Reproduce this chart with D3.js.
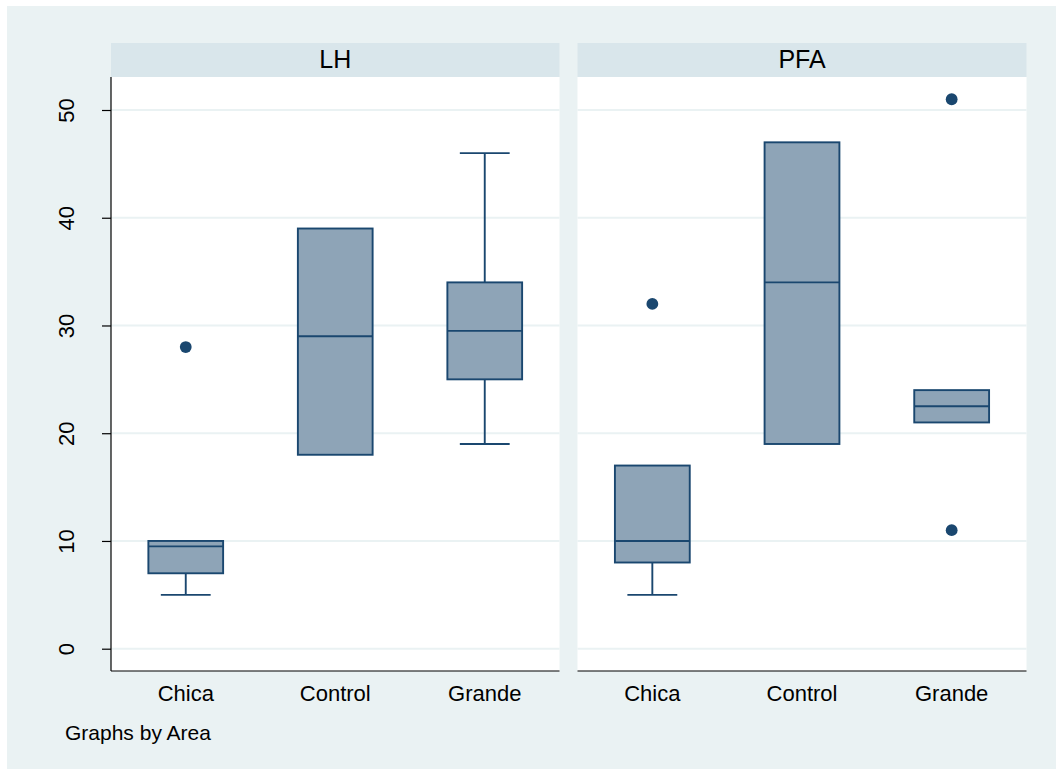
<!DOCTYPE html>
<html>
<head>
<meta charset="utf-8">
<script src="https://cdn.jsdelivr.net/npm/d3@7"></script>
<style>
  html, body { margin: 0; padding: 0; background: #ffffff; }
  svg { display: block; }
  text { font-family: "Liberation Sans", Arial, sans-serif; fill: #000; }
</style>
</head>
<body>
<svg id="chart" width="1056" height="769"></svg>
<script>
// Box plot summaries by area group and size category
const panels = ["LH", "PFA"];
const categories = ["Chica", "Control", "Grande"];
const yTicks = [0, 10, 20, 30, 40, 50];

const lhLow  = [5, 18, 19];
const lhQ1   = [7, 18, 25];
const lhMed  = [9.5, 29, 29.5];
const lhQ3   = [10, 39, 34];
const lhHigh = [10, 39, 46];
const lhOut  = [[28], [], []];

const pfaLow  = [5, 19, 21];
const pfaQ1   = [8, 19, 21];
const pfaMed  = [10, 34, 22.5];
const pfaQ3   = [17, 47, 24];
const pfaHigh = [17, 47, 24];
const pfaOut  = [[32], [], [11, 51]];

const noteText = "Graphs by Area";

const panelData = [
  { name: panels[0], low: lhLow, q1: lhQ1, med: lhMed, q3: lhQ3, high: lhHigh, out: lhOut },
  { name: panels[1], low: pfaLow, q1: pfaQ1, med: pfaMed, q3: pfaQ3, high: pfaHigh, out: pfaOut }
];

const svg = d3.select("#chart");

const BG = "#eaf2f3", HEAD = "#d9e6eb", GRID = "#eaf2f3";
const FILL = "#8ea4b7", LINE = "#1a476f";
const LW = 1.9;

// outer graph region
svg.append("rect").attr("x", 7).attr("y", 6).attr("width", 1049).attr("height", 763).attr("fill", BG);

const plotTop = 77, plotBottom = 671, headTop = 43;
const panelX = [[111, 559.5], [577.5, 1026.5]];

const y = d3.scaleLinear().domain([0, 50]).range([648.7, 110]);

panelData.forEach((p, pi) => {
  const [x0, x1] = panelX[pi];
  const g = svg.append("g");

  // strip header
  g.append("rect").attr("x", x0).attr("y", headTop).attr("width", x1 - x0).attr("height", plotTop - headTop).attr("fill", HEAD);
  g.append("text").attr("x", (x0 + x1) / 2).attr("y", 67.5).attr("text-anchor", "middle")
    .style("font-size", "25px").text(p.name);

  // plot region
  g.append("rect").attr("x", x0).attr("y", plotTop).attr("width", x1 - x0).attr("height", plotBottom - plotTop).attr("fill", "#ffffff");

  // gridlines
  g.selectAll("line.grid").data(yTicks).join("line").attr("class", "grid")
    .attr("x1", x0).attr("x2", x1).attr("y1", d => y(d)).attr("y2", d => y(d))
    .attr("stroke", GRID).attr("stroke-width", 2);

  const x = d3.scaleBand().domain(categories).range([x0, x1]).padding(0);
  const bw = x.bandwidth() * 0.5;
  const cw = x.bandwidth() / 3;

  categories.forEach((c, i) => {
    const cx = x(c) + x.bandwidth() / 2;
    // whiskers
    if (p.high[i] > p.q3[i]) {
      g.append("line").attr("x1", cx).attr("x2", cx).attr("y1", y(p.q3[i])).attr("y2", y(p.high[i]))
        .attr("stroke", LINE).attr("stroke-width", LW);
      g.append("line").attr("x1", cx - cw / 2).attr("x2", cx + cw / 2).attr("y1", y(p.high[i])).attr("y2", y(p.high[i]))
        .attr("stroke", LINE).attr("stroke-width", LW);
    }
    if (p.low[i] < p.q1[i]) {
      g.append("line").attr("x1", cx).attr("x2", cx).attr("y1", y(p.q1[i])).attr("y2", y(p.low[i]))
        .attr("stroke", LINE).attr("stroke-width", LW);
      g.append("line").attr("x1", cx - cw / 2).attr("x2", cx + cw / 2).attr("y1", y(p.low[i])).attr("y2", y(p.low[i]))
        .attr("stroke", LINE).attr("stroke-width", LW);
    }
    // box
    g.append("rect").attr("x", cx - bw / 2).attr("y", y(p.q3[i])).attr("width", bw)
      .attr("height", y(p.q1[i]) - y(p.q3[i]))
      .attr("fill", FILL).attr("stroke", LINE).attr("stroke-width", LW);
    // median
    g.append("line").attr("x1", cx - bw / 2).attr("x2", cx + bw / 2).attr("y1", y(p.med[i])).attr("y2", y(p.med[i]))
      .attr("stroke", LINE).attr("stroke-width", LW);
    // outside values
    p.out[i].forEach(v => {
      g.append("circle").attr("cx", cx).attr("cy", y(v)).attr("r", 5.9).attr("fill", LINE);
    });
  });

  // bottom axis
  const xAxis = g.append("g").attr("transform", `translate(0,${plotBottom})`)
    .call(d3.axisBottom(x).tickSize(0).tickPadding(0));
  xAxis.select(".domain").attr("stroke", "#000").attr("stroke-width", 1.2).attr("d", `M${x0},0H${x1}`);
  xAxis.selectAll(".tick text").attr("y", 30).attr("dy", 0)
    .style("font-size", "22px").style("font-family", "'Liberation Sans', Arial, sans-serif").attr("fill", "#000");

  // left axis on the first panel only
  if (pi === 0) {
    const yAxis = g.append("g").attr("transform", `translate(${x0},0)`)
      .call(d3.axisLeft(y).tickValues(yTicks).tickSize(9).tickPadding(0));
    yAxis.select(".domain").attr("stroke", "#000").attr("stroke-width", 1.2).attr("d", `M0,${plotTop}V${plotBottom}`);
    yAxis.selectAll(".tick line").attr("stroke", "#000").attr("stroke-width", 1.2);
    yAxis.selectAll(".tick text")
      .attr("x", 0).attr("dy", 0)
      .attr("transform", "translate(-37.5,0) rotate(-90)")
      .attr("text-anchor", "middle")
      .style("font-size", "22px").style("font-family", "'Liberation Sans', Arial, sans-serif").attr("fill", "#000");
  }
});

svg.append("text").attr("x", 65).attr("y", 739.5).style("font-size", "21px").text(noteText);
</script>
</body>
</html>
